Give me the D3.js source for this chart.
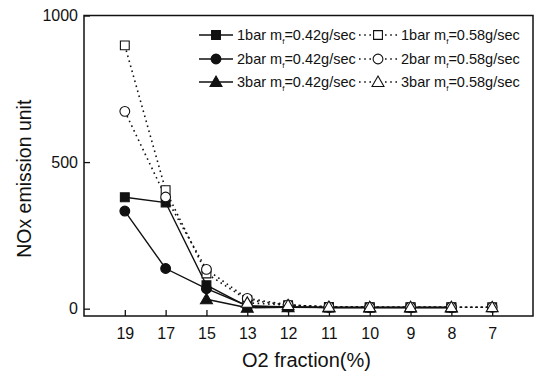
<!DOCTYPE html>
<html>
<head>
<meta charset="utf-8">
<script src="https://cdn.jsdelivr.net/npm/d3@7"></script>
<style>
  body { margin: 0; background: #fff; }
  svg { display: block; font-family: Arial, "Liberation Sans", sans-serif; }
</style>
</head>
<body>
<div id="chart"></div>
<script>
// --- data ---
const o2 = ["19", "17", "15", "13", "12", "11", "10", "9", "8", "7"];
const yTicks = [0, 500, 1000];

const bar1_042 = [380, 362, 80, 8, 6, 4, 4, 4, 4, null];
const bar2_042 = [333, 137, 68, 10, 6, 4, 4, 4, 4, null];
const bar3_042 = [null, null, 32, 3, 5, 4, 4, 4, 4, null];
const bar1_058 = [898, 404, 120, 30, 12, 6, 5, 5, 5, 5];
const bar2_058 = [673, 381, 134, 35, 13, 6, 5, 5, 5, 5];
const bar3_058 = [null, null, null, 20, 12, 6, 5, 5, 5, 5];

const series = [
  { bar: "1bar", rate: "0.42", values: bar1_042, shape: "square", filled: true },
  { bar: "2bar", rate: "0.42", values: bar2_042, shape: "circle", filled: true },
  { bar: "3bar", rate: "0.42", values: bar3_042, shape: "triangle", filled: true },
  { bar: "1bar", rate: "0.58", values: bar1_058, shape: "square", filled: false },
  { bar: "2bar", rate: "0.58", values: bar2_058, shape: "circle", filled: false },
  { bar: "3bar", rate: "0.58", values: bar3_058, shape: "triangle", filled: false }
];

// plot sizes
const width = 535, height = 371;
const margin = { top: 15.5, right: 2, bottom: 55, left: 84 };

const svg = d3.select("#chart").append("svg")
  .attr("width", width)
  .attr("height", height);

const x = d3.scalePoint()
  .domain(o2)
  .range([margin.left, width - margin.right])
  .padding(1);

const y = d3.scaleLinear()
  .domain([-25, 1000])
  .range([height - margin.bottom, margin.top]);

const ink = "#111";

// --- axes (ticks point inward) ---
svg.append("g")
  .attr("transform", `translate(0,${height - margin.bottom})`)
  .call(d3.axisBottom(x).tickSizeInner(-6).tickSizeOuter(0).tickPadding(12))
  .call(g => g.select(".domain").remove())
  .call(g => g.selectAll("line").attr("stroke", ink).attr("stroke-width", 1.3))
  .call(g => g.selectAll("text").attr("fill", ink).style("font-size", "16px"));

svg.append("g")
  .attr("transform", `translate(${margin.left},0)`)
  .call(d3.axisLeft(y).tickValues(yTicks).tickFormat(d3.format("d"))
    .tickSizeInner(-6).tickSizeOuter(0).tickPadding(6))
  .call(g => g.select(".domain").remove())
  .call(g => g.selectAll("line").attr("stroke", ink).attr("stroke-width", 1.3))
  .call(g => g.selectAll("text").attr("fill", ink).style("font-size", "16px"));

// frame
svg.append("rect")
  .attr("x", margin.left)
  .attr("y", margin.top)
  .attr("width", width - margin.right - margin.left)
  .attr("height", height - margin.bottom - margin.top)
  .attr("fill", "none")
  .attr("stroke", ink)
  .attr("stroke-width", 1.5);

// axis titles
svg.append("text")
  .attr("x", (margin.left + width - margin.right) / 2 - 2)
  .attr("y", 367)
  .attr("text-anchor", "middle")
  .attr("fill", ink)
  .style("font-size", "20px")
  .text("O2 fraction(%)");

svg.append("text")
  .attr("transform", `translate(31,${(margin.top + height - margin.bottom) / 2 + 13}) rotate(-90)`)
  .attr("text-anchor", "middle")
  .attr("fill", ink)
  .style("font-size", "19.5px")
  .text("NOx emission unit");

// --- markers ---
const symbolType = { square: d3.symbolSquare, circle: d3.symbolCircle, triangle: d3.symbolTriangle };
const symbolSize = { square: 78, circle: 75, triangle: 62 };

function drawMarker(g, s, cx, cy) {
  g.append("path")
    .attr("d", d3.symbol().type(symbolType[s.shape]).size(symbolSize[s.shape])())
    .attr("transform", `translate(${cx},${cy + (s.shape === "triangle" ? 1 : 0)})`)
    .attr("fill", s.filled ? ink : "#fff")
    .attr("stroke", ink)
    .attr("stroke-width", 1.1);
}

const line = d3.line()
  .defined(d => d.v != null)
  .x(d => x(d.k))
  .y(d => y(d.v));

const plot = svg.append("g");

// lines first, dotted ones on top of solid
series.forEach(s => {
  const pts = s.values.map((v, i) => ({ k: o2[i], v: v }));
  plot.append("path")
    .datum(pts)
    .attr("d", line)
    .attr("fill", "none")
    .attr("stroke", ink)
    .attr("stroke-width", s.filled ? 1.4 : 1.6)
    .attr("stroke-dasharray", s.filled ? null : "1.6,3.6");
});

series.forEach(s => {
  s.values.forEach((v, i) => {
    if (v != null) drawMarker(plot, s, x(o2[i]), y(v));
  });
});

// --- legend ---
const legend = svg.append("g").style("font-size", "14.5px");
const rowY = [35, 59, 82];

function legendLabel(g, lx, ly, s) {
  const t = g.append("text")
    .attr("x", lx)
    .attr("y", ly + 5)
    .attr("fill", ink);
  t.append("tspan").text(`${s.bar} m`);
  t.append("tspan").attr("dy", 4).style("font-size", "8px").text("f");
  t.append("tspan").attr("dy", -4).text(`=${s.rate}g/sec`);
}

series.forEach((s, i) => {
  const row = i % 3;
  const ly = rowY[row];
  if (s.filled) {
    legend.append("line")
      .attr("x1", 199).attr("x2", 233)
      .attr("y1", ly).attr("y2", ly)
      .attr("stroke", ink).attr("stroke-width", 1.4);
    drawMarker(legend, s, 216, ly);
    legendLabel(legend, 237, ly, s);
  } else {
    legend.append("line")
      .attr("x1", 359).attr("x2", 398)
      .attr("y1", ly).attr("y2", ly)
      .attr("stroke", ink).attr("stroke-width", 1.6)
      .attr("stroke-dasharray", "1.6,3.6");
    drawMarker(legend, s, 378, ly);
    legendLabel(legend, 401, ly, s);
  }
});
</script>
</body>
</html>
